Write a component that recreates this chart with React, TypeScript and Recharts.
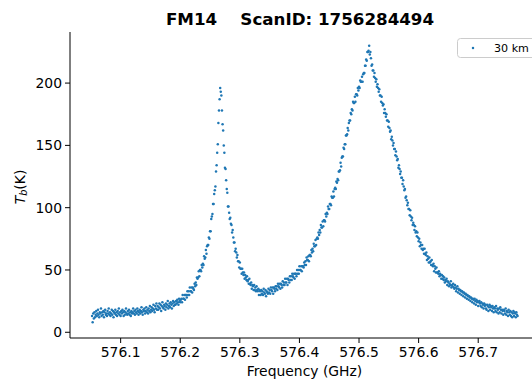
import React from 'react';
import { ScatterChart, Scatter, XAxis, YAxis, Legend } from 'recharts';

// Spectrometer channel grid (GHz)
const FREQ_START_GHZ = 576.052;
const CHANNEL_STEP_GHZ = 0.001;

const TITLE = 'FM14    ScanID: 1756284494';
const SERIES_NAME = '30 km';
const X_LABEL = 'Frequency (GHz)';
const X_TICKS = [576.1, 576.2, 576.3, 576.4, 576.5, 576.6, 576.7];
const Y_TICKS = [0, 50, 100, 150, 200];
const X_DOMAIN = [576.015, 576.802];
const Y_DOMAIN = [-4.6, 241];

// Brightness temperature T_b (K), read channel by channel from the plot
// 576.052 – 576.201 GHz
const baselineLow = [
  13, 8, 15, 11, 16, 12, 14, 17, 13, 15,
  18, 14, 12, 16, 15, 19, 13, 16, 14, 17,
  12, 16, 18, 14, 15, 13, 17, 15, 19, 14,
  16, 13, 15, 18, 14, 17, 12, 16, 15, 18,
  14, 16, 13, 17, 15, 19, 14, 16, 13, 17,
  15, 18, 16, 13, 17, 14, 16, 19, 15, 14,
  17, 15, 18, 14, 16, 13, 17, 15, 16, 19,
  15, 17, 14, 18, 16, 15, 19, 17, 14, 16,
  18, 15, 17, 20, 16, 14, 18, 17, 19, 15,
  17, 20, 16, 18, 15, 19, 17, 21, 16, 18,
  20, 17, 19, 22, 18, 16, 21, 19, 23, 18,
  21, 18, 20, 23, 19, 22, 17, 21, 24, 20,
  19, 22, 21, 18, 23, 20, 22, 25, 19, 21,
  23, 20, 24, 22, 19, 23, 25, 21, 24, 22,
  22, 25, 23, 26, 24, 22, 27, 25, 24, 26,
];
// 576.202 – 576.301 GHz
const leftLine = [
  27, 24, 30, 27, 27, 30, 26, 30, 30, 28,
  33, 30, 33, 30, 36, 33, 33, 36, 32, 36,
  35, 34, 39, 37, 40, 38, 44, 43, 44, 49,
  45, 50, 50, 49, 54, 52, 55, 54, 61, 59,
  60, 66, 63, 69, 70, 70, 76, 75, 81, 81,
  91, 93, 95, 103, 103, 111, 114, 117, 129, 134,
  144, 151, 168, 178, 187, 196, 193, 190, 178, 167,
  162, 150, 144, 132, 131, 122, 115, 112, 101, 101,
  96, 91, 92, 87, 86, 80, 82, 76, 72, 72,
  65, 67, 64, 60, 62, 57, 57, 52, 56, 51,
];
// 576.302 – 576.451 GHz
const valley = [
  51, 47, 51, 48, 46, 48, 43, 46, 44, 42,
  45, 41, 42, 39, 43, 39, 38, 40, 35, 38,
  37, 34, 38, 34, 36, 33, 37, 34, 33, 35,
  30, 34, 33, 30, 34, 31, 33, 30, 35, 32,
  31, 34, 29, 33, 32, 31, 35, 32, 34, 31,
  36, 34, 33, 36, 31, 36, 35, 33, 37, 35,
  37, 34, 39, 37, 36, 39, 35, 39, 38, 36,
  41, 38, 40, 38, 43, 40, 40, 43, 38, 43,
  42, 40, 45, 42, 45, 42, 47, 45, 44, 47,
  43, 47, 47, 45, 50, 47, 50, 47, 53, 50,
  50, 53, 49, 53, 53, 52, 56, 54, 57, 54,
  60, 58, 58, 61, 57, 62, 62, 61, 66, 64,
  67, 65, 71, 69, 69, 74, 70, 75, 76, 75,
  80, 78, 82, 80, 86, 84, 84, 89, 85, 90,
  90, 89, 95, 93, 96, 95, 101, 99, 99, 103,
];
// 576.452 – 576.631 GHz
const rightLine = [
  103, 102, 109, 108, 108, 113, 109, 115, 116, 115,
  121, 120, 123, 122, 129, 129, 130, 136, 133, 140,
  141, 141, 148, 147, 151, 151, 158, 158, 159, 164,
  162, 168, 170, 170, 176, 175, 179, 178, 185, 184,
  184, 189, 185, 191, 191, 190, 196, 194, 197, 196,
  202, 201, 201, 205, 201, 207, 208, 208, 214, 214,
  219, 218, 225, 225, 226, 230, 223, 225, 220, 214,
  215, 210, 210, 205, 208, 204, 201, 203, 197, 199,
  196, 193, 195, 190, 190, 185, 189, 184, 182, 183,
  176, 179, 176, 173, 175, 170, 170, 165, 169, 164,
  161, 162, 155, 157, 154, 150, 152, 147, 147, 142,
  145, 141, 138, 139, 132, 134, 131, 127, 129, 124,
  124, 119, 122, 117, 114, 115, 108, 109, 106, 102,
  104, 99, 99, 94, 98, 93, 90, 92, 86, 88,
  86, 82, 85, 80, 81, 77, 80, 76, 73, 75,
  69, 72, 70, 67, 70, 66, 67, 63, 67, 63,
  62, 64, 58, 61, 59, 56, 60, 56, 57, 54,
  58, 54, 53, 55, 49, 53, 51, 48, 52, 48,
];
// 576.632 – 576.766 GHz
const rightTail = [
  48, 47, 49, 45, 47, 46, 43, 46, 43, 45,
  42, 44, 40, 42, 41, 43, 38, 41, 40, 37,
  39, 38, 41, 36, 38, 37, 39, 36, 35, 38,
  36, 33, 35, 37, 32, 35, 34, 31, 34, 33,
  30, 33, 32, 29, 32, 31, 28, 31, 30, 27,
  30, 29, 26, 29, 28, 25, 28, 27, 24, 27,
  26, 23, 27, 25, 22, 26, 24, 25, 21, 24,
  25, 23, 21, 24, 20, 23, 22, 19, 23, 21,
  22, 19, 18, 22, 21, 17, 20, 22, 18, 21,
  20, 17, 21, 19, 16, 20, 19, 17, 21, 16,
  19, 18, 15, 19, 16, 20, 18, 15, 18, 17,
  14, 18, 17, 15, 19, 14, 17, 16, 13, 18,
  16, 14, 17, 13, 16, 12, 15, 17, 13, 16,
  15, 12, 16, 14, 13,
];

const tb: number[] = [...baselineLow, ...leftLine, ...valley, ...rightLine, ...rightTail];
const spectrum = tb.map((t, i) => ({
  f: Number((FREQ_START_GHZ + i * CHANNEL_STEP_GHZ).toFixed(3)),
  t,
}));

const FONT = "'DejaVu Sans', sans-serif";
const BLUE = '#1f77b4';

const Dot = (p: any) => <circle cx={p.cx} cy={p.cy} r={1.25} fill={BLUE} />;

const YLabel = (props: any) => {
  const vb = props.viewBox || { x: 0, y: 32, width: 70, height: 306 };
  const cx = vb.x + 20;
  const cy = vb.y + vb.height / 2 + 2;
  return (
    <text
      transform={`translate(${cx},${cy}) rotate(-90)`}
      textAnchor="middle"
      dominantBaseline="central"
      fontFamily={FONT}
      fontSize={13.9}
      fill="#000"
    >
      <tspan fontStyle="italic">T</tspan>
      <tspan fontStyle="italic" fontSize={9.7} dy={3}>b</tspan>
      <tspan dy={-3}>(K)</tspan>
    </text>
  );
};

const XLabel = (props: any) => {
  const vb = props.viewBox || { x: 70, y: 338, width: 469, height: 43 };
  return (
    <text
      x={vb.x + vb.width / 2}
      y={vb.y + 38}
      textAnchor="middle"
      fontFamily={FONT}
      fontSize={13.9}
      fill="#000"
    >
      {X_LABEL}
    </text>
  );
};

const LegendBox = () => (
  <svg width={100} height={22} style={{ display: 'block' }}>
    <rect x={0.5} y={0.5} width={95} height={19} rx={3} ry={3} fill="#fff" stroke="#cccccc" strokeWidth={1} />
    <circle cx={16} cy={10} r={1.25} fill={BLUE} />
    <text x={37} y={14} fontFamily={FONT} fontSize={11.1} fill="#000">
      {SERIES_NAME}
    </text>
  </svg>
);

const tickStyle = { fill: '#000', fontSize: 13.9, fontFamily: FONT };

export default function App() {
  return (
    <div
      style={{
        position: 'fixed',
        left: 0,
        top: 0,
        width: 532,
        height: 381,
        overflow: 'hidden',
        background: '#fff',
      }}
    >
      <svg
        width={532}
        height={30}
        style={{ position: 'absolute', left: 0, top: 0, zIndex: 2 }}
      >
        <text
          x={300}
          y={25}
          textAnchor="middle"
          fontFamily={FONT}
          fontWeight="bold"
          fontSize={16.7}
          fill="#000"
          xmlSpace="preserve"
          style={{ whiteSpace: 'pre' }}
        >
          {TITLE}
        </text>
      </svg>
      <ScatterChart
        width={545}
        height={381}
        margin={{ top: 32, right: 6, bottom: 0, left: 0 }}
      >
        <XAxis
          type="number"
          dataKey="f"
          domain={X_DOMAIN}
          ticks={X_TICKS}
          interval={0}
          allowDataOverflow
          tickFormatter={(v: number) => v.toFixed(1)}
          height={43}
          tickSize={5}
          tickMargin={4}
          tick={tickStyle}
          axisLine={{ stroke: '#000', strokeWidth: 1 }}
          tickLine={{ stroke: '#000', strokeWidth: 1 }}
          label={<XLabel />}
        />
        <XAxis
          xAxisId="top"
          orientation="top"
          type="number"
          dataKey="f"
          domain={X_DOMAIN}
          allowDataOverflow
          height={0}
          tick={false}
          tickLine={false}
          axisLine={{ stroke: '#000', strokeWidth: 1 }}
        />
        <YAxis
          type="number"
          dataKey="t"
          domain={Y_DOMAIN}
          ticks={Y_TICKS}
          interval={0}
          allowDataOverflow
          width={70}
          tickSize={5}
          tickMargin={3}
          tick={tickStyle}
          axisLine={{ stroke: '#000', strokeWidth: 1 }}
          tickLine={{ stroke: '#000', strokeWidth: 1 }}
          label={<YLabel />}
        />
        <YAxis
          yAxisId="right"
          orientation="right"
          type="number"
          dataKey="t"
          domain={Y_DOMAIN}
          allowDataOverflow
          width={0}
          tick={false}
          tickLine={false}
          axisLine={{ stroke: '#000', strokeWidth: 1 }}
        />
        <Legend
          layout="vertical"
          align="center"
          verticalAlign="middle"
          wrapperStyle={{ left: 457, top: 38, width: 100, height: 22 }}
          content={<LegendBox />}
        />
        <Scatter
          name={SERIES_NAME}
          data={spectrum}
          fill={BLUE}
          shape={Dot}
          isAnimationActive={false}
        />
      </ScatterChart>
    </div>
  );
}
